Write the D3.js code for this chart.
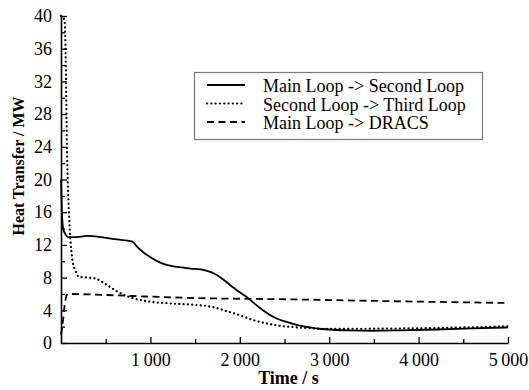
<!DOCTYPE html>
<html><head><meta charset="utf-8">
<script src="https://cdn.jsdelivr.net/npm/d3@7"></script>
<style>
html,body{margin:0;padding:0;background:#fff;}
svg text{font-family:"Liberation Serif","Times New Roman","DejaVu Serif",serif !important;}
</style>
</head><body>
<svg id="chart" width="529" height="390"></svg>
<script>
// ---- data ----
const seriesNames = ["Main Loop -> Second Loop", "Second Loop -> Third Loop", "Main Loop -> DRACS"];

const mainSecondT = [0,10,25,50,80,150,300,450,600,800,850,920,1000,1070,1180,1300,1450,1560,1650,1710,1800,1890,2000,2080,2200,2300,2400,2550,2700,2850,3000,3200,3500,3800,4200,4600,5000];
const mainSecondV = [20,16,14,13.3,12.95,12.95,13.1,12.95,12.7,12.4,11.8,11.1,10.5,10.05,9.55,9.3,9.1,9.0,8.75,8.5,7.9,7.1,6.2,5.6,4.5,3.7,3.05,2.5,2.05,1.8,1.65,1.55,1.5,1.55,1.65,1.78,1.9];

const secondThirdT = [0,40,55,65,75,85,95,110,130,160,200,300,380,500,600,700,800,1000,1200,1450,1700,1850,2000,2150,2300,2450,2600,2800,3000,3500,4000,4500,5000];
const secondThirdV = [40,39.5,33,25,20,17,14.5,12,10,8.9,8.1,8.0,7.9,7.2,6.5,5.9,5.5,5.05,4.85,4.7,4.4,3.9,3.4,2.8,2.4,2.1,1.95,1.8,1.72,1.75,1.8,1.9,2.05];

const dracsT = [0,20,40,60,80,300,800,1500,2500,3500,5000];
const dracsV = [1.0,2.5,4.5,5.8,6.0,5.95,5.75,5.5,5.35,5.15,4.9];

const yTicks = [0,4,8,12,16,20,24,28,32,36,40];
const yMinorTicks = [2,6,10,14,18,22,26,30,34,38];
const xTicks = [1000,2000,3000,4000,5000];
const xMinorTicks = [500,1500,2500,3500,4500];

// ---- layout ----
const FONT = "'Liberation Serif', 'Times New Roman', 'DejaVu Serif', serif";
const svg = d3.select("#chart");
const mLeft = 61, mRight = 508, mTop = 16, mBottom = 343;
const x = d3.scaleLinear().domain([0,5000]).range([mLeft,mRight]);
const y = d3.scaleLinear().domain([0,40]).range([mBottom,mTop]);

// axes
const fmt = d => d3.format("d")(d).replace(/(\d)(\d{3})$/, "$1\u2009$2");

const yAxis = svg.append("g").attr("transform",`translate(${mLeft},0)`)
  .call(d3.axisLeft(y).tickValues(yTicks).tickSizeInner(-6).tickSizeOuter(0).tickPadding(9).tickFormat(d3.format("d")));
const yMinor = svg.append("g").attr("transform",`translate(${mLeft},0)`)
  .call(d3.axisLeft(y).tickValues(yMinorTicks).tickSizeInner(-4).tickSizeOuter(0).tickFormat(""));
yMinor.select(".domain").remove();

const xAxis = svg.append("g").attr("transform",`translate(0,${mBottom})`)
  .call(d3.axisBottom(x).tickValues(xTicks).tickSizeInner(-6).tickSizeOuter(0).tickPadding(6).tickFormat(fmt));
const xMinor = svg.append("g").attr("transform",`translate(0,${mBottom})`)
  .call(d3.axisBottom(x).tickValues(xMinorTicks).tickSizeInner(-4).tickSizeOuter(0).tickFormat(""));
xMinor.select(".domain").remove();

svg.selectAll("g").attr("font-family", FONT);
svg.selectAll(".domain").attr("stroke","#000").attr("stroke-width",1.6);
svg.selectAll(".tick line").attr("stroke","#000").attr("stroke-width",1.3);
svg.selectAll(".tick text").attr("font-family",FONT).attr("font-size",18).attr("fill","#000");
xAxis.selectAll(".tick text").attr("dy","0.95em");

// axis titles
svg.append("text").attr("x",(mLeft+mRight)/2+4).attr("y",384).attr("font-family",FONT)
  .attr("text-anchor","middle").attr("font-weight","bold").attr("font-size",18).text("Time / s");
svg.append("text").attr("transform","translate(24,166) rotate(-90)").attr("font-family",FONT)
  .attr("text-anchor","middle").attr("font-weight","bold").attr("font-size",16).text("Heat Transfer / MW");

// lines
const line = d3.line().x(d=>x(d[0])).y(d=>y(d[1])).curve(d3.curveMonotoneX);
const styles = [
  {dash:null, w:1.8, cap:"butt"},
  {dash:"0.1 4.2", w:2.2, cap:"round"},
  {dash:"7 4.5", w:1.8, cap:"butt"}
];
const data = [
  d3.zip(mainSecondT, mainSecondV),
  d3.zip(secondThirdT, secondThirdV),
  d3.zip(dracsT, dracsV)
];
data.forEach((d,i)=>{
  svg.append("path").datum(d).attr("d",line)
    .attr("fill","none").attr("stroke","#000")
    .attr("stroke-width",styles[i].w)
    .attr("stroke-linecap",styles[i].cap)
    .attr("stroke-dasharray",styles[i].dash);
});

// legend
const lg = svg.append("g").attr("font-family",FONT);
lg.append("rect").attr("x",194.5).attr("y",72.5).attr("width",288).attr("height",67)
  .attr("fill","#fff").attr("stroke","#777").attr("stroke-width",1.2);
const rows = [85,103.5,122];
seriesNames.forEach((n,i)=>{
  lg.append("line").attr("x1",207).attr("x2",245).attr("y1",rows[i]).attr("y2",rows[i])
    .attr("stroke","#000").attr("stroke-width",styles[i].w)
    .attr("stroke-linecap",styles[i].cap)
    .attr("stroke-dasharray",styles[i].dash);
  lg.append("text").attr("x",263).attr("y",rows[i]+7).attr("font-size",18).attr("font-family",FONT).text(n);
});
</script>
</body></html>
